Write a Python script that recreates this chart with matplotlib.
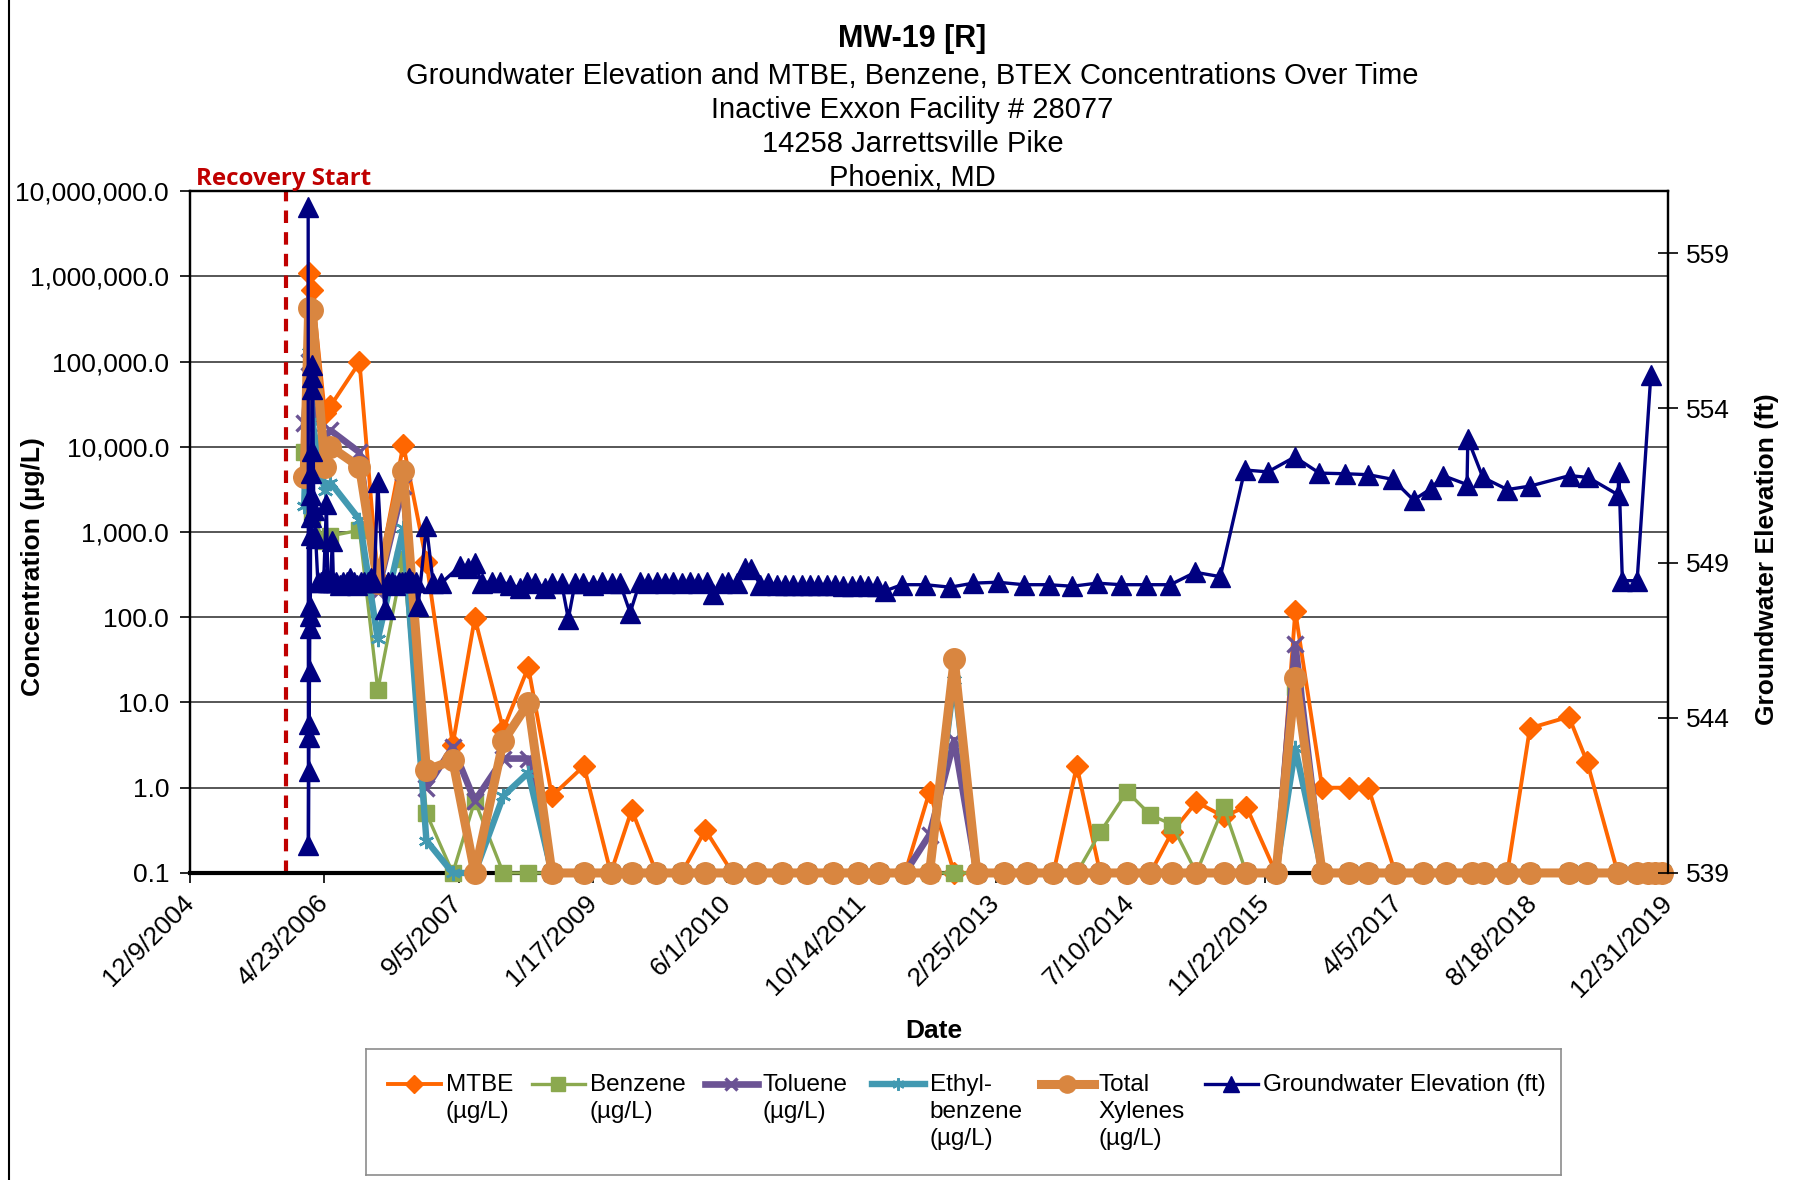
import numpy as np
import pandas as pd
import matplotlib
matplotlib.use("Agg")
import matplotlib.pyplot as plt
from matplotlib.ticker import NullLocator
from matplotlib.lines import Line2D

plt.rcParams['font.family'] = ['Liberation Sans', 'DejaVu Sans']

# sampling events (concentrations in ug/L, 0.1 = non detect)
sample_dates = [
    "2006-02-07", "2006-02-24", "2006-03-09", "2006-04-25", "2006-05-16",
    "2006-09-01", "2006-11-08", "2007-02-11", "2007-05-08", "2007-08-14",
    "2007-11-04", "2008-02-18", "2008-05-21", "2008-08-17", "2008-12-14",
    "2009-03-24", "2009-06-10", "2009-09-10", "2009-12-13", "2010-03-11",
    "2010-06-20", "2010-09-15", "2010-12-20", "2011-03-23", "2011-06-30",
    "2011-10-01", "2011-12-18", "2012-03-23", "2012-06-22", "2012-09-22",
    "2012-12-15", "2013-03-27", "2013-06-19", "2013-09-26", "2013-12-22",
    "2014-03-19", "2014-06-27", "2014-09-22", "2014-12-11", "2015-03-12",
    "2015-06-21", "2015-09-14", "2016-01-02", "2016-03-14", "2016-06-22",
    "2016-09-29", "2016-12-11", "2017-03-21", "2017-07-02", "2017-09-24",
    "2018-01-01", "2018-02-13", "2018-05-12", "2018-08-04", "2018-12-27",
    "2019-03-05", "2019-06-27", "2019-09-07", "2019-10-19", "2019-11-14",
    "2019-12-10",
]
mtbe = [
    4400, 1100000, 690000, 25000, 30000, 98000, 280, 10500, 450, 3.2,
    98, 4.8, 26, 0.8, 1.8, 0.1, 0.55, 0.1, 0.1, 0.32,
    0.1, 0.1, 0.1, 0.1, 0.1, 0.1, 0.1, 0.1, 0.9, 0.1,
    0.1, 0.1, 0.1, 0.1, 1.8, 0.1, 0.1, 0.1, 0.3, 0.68,
    0.46, 0.6, 0.1, 118, 1.0, 1.0, 1.0, 0.1, 0.1, 0.1,
    0.1, 0.1, 0.1, 5.0, 6.8, 2.0, 0.1, 0.1, 0.1, 0.1,
    0.1,
]
benzene = [
    8600, 8000, 1500, 780, 900, 1050, 14, 480, 0.5, 0.1,
    0.7, 0.1, 0.1, 0.1, 0.1, 0.1, 0.1, 0.1, 0.1, 0.1,
    0.1, 0.1, 0.1, 0.1, 0.1, 0.1, 0.1, 0.1, 0.1, 0.1,
    0.1, 0.1, 0.1, 0.1, 0.1, 0.3, 0.9, 0.48, 0.37, 0.1,
    0.6, 0.1, 0.1, 15, 0.1, 0.1, 0.1, 0.1, 0.1, 0.1,
    0.1, 0.1, 0.1, 0.1, 0.1, 0.1, 0.1, 0.1, 0.1, 0.1,
    0.1,
]
toluene = [
    19000, 100000, 30000, 13000, 15600, 8600, 200, 3500, 1.0, 3.0,
    0.7, 2.2, 2.2, 0.1, 0.1, 0.1, 0.1, 0.1, 0.1, 0.1,
    0.1, 0.1, 0.1, 0.1, 0.1, 0.1, 0.1, 0.1, 0.28, 3.6,
    0.1, 0.1, 0.1, 0.1, 0.1, 0.1, 0.1, 0.1, 0.1, 0.1,
    0.1, 0.1, 0.1, 48, 0.1, 0.1, 0.1, 0.1, 0.1, 0.1,
    0.1, 0.1, 0.1, 0.1, 0.1, 0.1, 0.1, 0.1, 0.1, 0.1,
    0.1,
]
ethylbenzene = [
    2000, 130000, 20000, 3000, 3800, 1400, 55, 1100, 0.24, 0.1,
    0.1, 0.8, 1.5, 0.1, 0.1, 0.1, 0.1, 0.1, 0.1, 0.1,
    0.1, 0.1, 0.1, 0.1, 0.1, 0.1, 0.1, 0.1, 0.1, 18.6,
    0.1, 0.1, 0.1, 0.1, 0.1, 0.1, 0.1, 0.1, 0.1, 0.1,
    0.1, 0.1, 0.1, 2.9, 0.1, 0.1, 0.1, 0.1, 0.1, 0.1,
    0.1, 0.1, 0.1, 0.1, 0.1, 0.1, 0.1, 0.1, 0.1, 0.1,
    0.1,
]
xylenes = [
    4400, 420000, 400000, 5800, 10000, 5800, 250, 5200, 1.6, 2.1,
    0.1, 3.5, 9.8, 0.1, 0.1, 0.1, 0.1, 0.1, 0.1, 0.1,
    0.1, 0.1, 0.1, 0.1, 0.1, 0.1, 0.1, 0.1, 0.1, 32,
    0.1, 0.1, 0.1, 0.1, 0.1, 0.1, 0.1, 0.1, 0.1, 0.1,
    0.1, 0.1, 0.1, 19.5, 0.1, 0.1, 0.1, 0.1, 0.1, 0.1,
    0.1, 0.1, 0.1, 0.1, 0.1, 0.1, 0.1, 0.1, 0.1, 0.1,
    0.1,
]

# groundwater gauging (ft)
gw_dates = [
    "2006-02-22", "2006-02-23", "2006-02-24", "2006-02-25", "2006-02-26",
    "2006-02-27", "2006-02-28", "2006-03-01", "2006-03-02", "2006-03-03",
    "2006-03-04", "2006-03-05", "2006-03-06", "2006-03-07", "2006-03-08",
    "2006-03-09", "2006-03-10", "2006-03-15", "2006-03-22", "2006-03-30",
    "2006-04-12", "2006-04-21", "2006-05-01", "2006-05-06", "2006-05-16",
    "2006-05-23", "2006-05-27", "2006-06-07", "2006-06-20", "2006-07-03",
    "2006-07-15", "2006-07-28", "2006-08-10", "2006-08-23", "2006-09-05",
    "2006-09-18", "2006-10-01", "2006-10-14", "2006-10-26", "2006-11-08",
    "2006-12-04", "2006-12-17", "2006-12-30", "2007-01-12", "2007-01-25",
    "2007-02-06", "2007-02-19", "2007-03-04", "2007-03-17", "2007-03-30",
    "2007-04-07", "2007-05-08", "2007-06-02", "2007-07-02", "2007-09-10",
    "2007-10-11", "2007-11-05", "2007-11-29", "2008-01-06", "2008-02-06",
    "2008-03-14", "2008-04-20", "2008-05-15", "2008-06-15", "2008-07-22",
    "2008-08-16", "2008-09-22", "2008-10-17", "2008-11-11", "2008-12-12",
    "2009-01-18", "2009-02-18", "2009-03-27", "2009-04-27", "2009-06-04",
    "2009-07-11", "2009-08-11", "2009-09-11", "2009-10-12", "2009-11-12",
    "2009-12-13", "2010-01-13", "2010-02-13", "2010-03-16", "2010-04-10",
    "2010-05-10", "2010-06-05", "2010-07-05", "2010-08-06", "2010-08-29",
    "2010-10-01", "2010-10-31", "2010-12-02", "2011-01-01", "2011-01-31",
    "2011-03-06", "2011-04-05", "2011-05-05", "2011-06-06", "2011-07-06",
    "2011-08-05", "2011-09-07", "2011-10-07", "2011-11-06", "2011-12-10",
    "2012-01-09", "2012-03-11", "2012-06-06", "2012-09-07", "2012-12-02",
    "2013-03-03", "2013-06-07", "2013-09-08", "2013-12-06", "2014-03-07",
    "2014-06-04", "2014-09-05", "2014-12-05", "2015-03-08", "2015-06-09",
    "2015-09-08", "2015-12-03", "2016-03-12", "2016-06-12", "2016-09-14",
    "2016-12-10", "2017-03-11", "2017-05-28", "2017-08-01", "2017-09-15",
    "2017-12-13", "2017-12-16", "2018-02-10", "2018-05-12", "2018-08-04",
    "2018-12-30", "2019-03-09", "2019-06-28", "2019-07-01", "2019-07-14",
    "2019-09-07", "2019-10-28",
]
gw_elev = [
    560.5, 539.9, 542.3, 543.4, 543.8, 545.5, 546.9, 547.3, 547.6, 549.9,
    550.5, 551.2, 551.9, 552.6, 554.6, 555.0, 555.4, 550.7, 549.8, 548.4,
    548.4, 548.5, 550.9, 548.4, 548.4, 549.7, 548.4, 548.4, 548.3, 548.4,
    548.4, 548.5, 548.4, 548.3, 548.4, 548.4, 548.4, 548.5, 548.4, 551.6,
    547.5, 548.4, 548.4, 548.3, 548.4, 548.4, 548.4, 548.5, 548.4, 548.4,
    547.6, 550.2, 548.35, 548.35, 548.9, 548.85, 549.0, 548.35, 548.4, 548.4,
    548.3, 548.2, 548.4, 548.35, 548.2, 548.35, 548.35, 547.2, 548.35, 548.35,
    548.3, 548.4, 548.35, 548.35, 547.4, 548.4, 548.35, 548.4, 548.35, 548.4,
    548.35, 548.4, 548.35, 548.4, 548.0, 548.35, 548.4, 548.35, 548.85, 548.8,
    548.3, 548.35, 548.3, 548.3, 548.3, 548.3, 548.3, 548.3, 548.3, 548.3,
    548.25, 548.25, 548.3, 548.25, 548.25, 548.1, 548.3, 548.3, 548.22, 548.35,
    548.38, 548.3, 548.3, 548.25, 548.35, 548.3, 548.3, 548.3, 548.7, 548.56,
    552.0, 551.94, 552.42, 551.9, 551.88, 551.85, 551.7, 551.03, 551.4, 551.82,
    551.53, 553.0, 551.76, 551.37, 551.48, 551.82, 551.76, 551.2, 551.93, 548.43,
    548.43, 555.07,
]

recovery_start = "2005-11-30"
date_ticks = ["2004-12-09", "2006-04-23", "2007-09-05", "2009-01-17", "2010-06-01",
              "2011-10-14", "2013-02-25", "2014-07-10", "2015-11-22", "2017-04-05",
              "2018-08-18", "2019-12-31"]
conc_ticks = [0.1, 1, 10, 100, 1000, 10000, 100000, 1000000, 10000000]
elev_ticks = [539, 544, 549, 554, 559]

# label, values, colour, marker, marker size, line width, marker edge width
series = [
    ("MTBE\n(µg/L)", mtbe, "#FF6600", "D", 11.5, 2.8, 1),
    ("Benzene\n(µg/L)", benzene, "#8BA94F", "s", 12.0, 2.4, 1),
    ("Toluene\n(µg/L)", toluene, "#6B5394", "x", 11.0, 4.8, 2.4),
    ("Ethyl-\nbenzene\n(µg/L)", ethylbenzene, "#4299B1", (6, 2, 0), 11.0, 4.6, 1.8),
    ("Total\nXylenes\n(µg/L)", xylenes, "#D98640", "o", 15.5, 6.5, 1),
]
gw_color = "#000080"

sd = pd.to_datetime(sample_dates)
gd = pd.to_datetime(gw_dates)
dt = pd.to_datetime(date_ticks)

fig = plt.figure(figsize=(18.07, 11.80), dpi=100)
ax = fig.add_axes([0.1051, 0.2602, 0.8180, 0.5779])

for i, (lab, vals, col, mk, ms, lw, mew) in enumerate(series):
    ax.plot(sd, vals, color=col, marker=mk, ms=ms, lw=lw, mew=mew,
            mec=col, mfc=col, clip_on=False, zorder=3 + i)

ax.axvline(pd.Timestamp(recovery_start), color="#C00000", lw=3, ls=(0, (3, 2.2)), zorder=2)

ax.set_yscale("log")
ax.set_ylim(0.1, 1e7)
ax.set_xlim(dt[0], dt[-1])
ax.yaxis.set_minor_locator(NullLocator())
ax.set_yticks(conc_ticks)
ax.set_yticklabels([f"{v:,.1f}" for v in conc_ticks], fontsize=19)
ax.set_xticks(dt)
ax.set_xticklabels([f"{d.month}/{d.day}/{d.year}" for d in dt], fontsize=19,
                   rotation=45, ha="right", va="center", rotation_mode="anchor")
ax.yaxis.grid(True, color="#3a3a3a", lw=1.2)
ax.set_axisbelow(True)
ax.tick_params(axis="y", direction="out", length=7, width=1.2, pad=8)
ax.tick_params(axis="x", direction="out", length=7, width=1.2, pad=12)
for s in ax.spines.values():
    s.set_linewidth(1.6)
    s.set_color("black")
ax.spines["bottom"].set_linewidth(3)

ax2 = ax.twinx()
ax2.plot(gd, gw_elev, color=gw_color, marker="^", ms=14.5, lw=2.4, clip_on=False, zorder=10)
ax2.set_ylim(539, 561)
ax2.set_yticks(elev_ticks)
ax2.set_yticklabels([str(v) for v in elev_ticks], fontsize=19)
ax2.tick_params(axis="y", direction="inout", length=14, width=1.2, pad=6)
for s in ax2.spines.values():
    s.set_linewidth(1.6)
    s.set_color("black")
ax2.spines["bottom"].set_visible(False)

# titles and labels
fig.text(0.505, 0.967, "MW-19 [R]", ha="center", va="center", fontsize=22, fontweight="bold")
sub = ["Groundwater Elevation and MTBE, Benzene, BTEX Concentrations Over Time",
       "Inactive Exxon Facility # 28077", "14258 Jarrettsville Pike", "Phoenix, MD"]
for k, line in enumerate(sub):
    fig.text(0.505, 0.936 - k * 0.0289, line, ha="center", va="center", fontsize=21)
fig.text(0.018, 0.5195, "Concentration (µg/L)", rotation=90, ha="center", va="center",
         fontsize=19, fontweight="bold")
fig.text(0.978, 0.526, "Groundwater Elevation (ft)", rotation=90, ha="center", va="center",
         fontsize=19, fontweight="bold")
fig.text(0.5165, 0.126, "Date", ha="center", va="center", fontsize=19, fontweight="bold")
fig.text(0.1085, 0.8486, "Recovery Start", ha="left", va="center", fontsize=17.3,
         fontweight="bold", color="#C00000", family=["Open Sans", "DejaVu Sans"])

# outer chart frame (left edge)
fig.add_artist(Line2D([0.005, 0.005], [0, 1], transform=fig.transFigure, color="black", lw=1.5))

# legend box laid out like the spreadsheet legend
leg = fig.add_axes([0.2025, 0.0042, 0.6613, 0.1068])
leg.set_xlim(366, 1561)
leg.set_ylim(1175, 1049)
leg.set_xticks([])
leg.set_yticks([])
for s in leg.spines.values():
    s.set_color("#8c8c8c")
    s.set_linewidth(1.2)
entries = series + [("Groundwater Elevation (ft)", None, gw_color, "^", 14.5, 2.4, 1)]
line_x = [388, 532, 705, 872, 1041, 1205]
for (lab, _, col, mk, ms, lw, mew), x0 in zip(entries, line_x):
    leg.plot([x0, x0 + 26.5, x0 + 53], [1084, 1084, 1084], color=col, lw=lw, marker=mk,
             ms=ms * 0.8, mew=mew, mec=col, mfc=col, markevery=[1])
    leg.text(x0 + 58, 1074, lab, ha="left", va="top", fontsize=17.5, linespacing=1.3)

fig.savefig("out.png", dpi=100)
